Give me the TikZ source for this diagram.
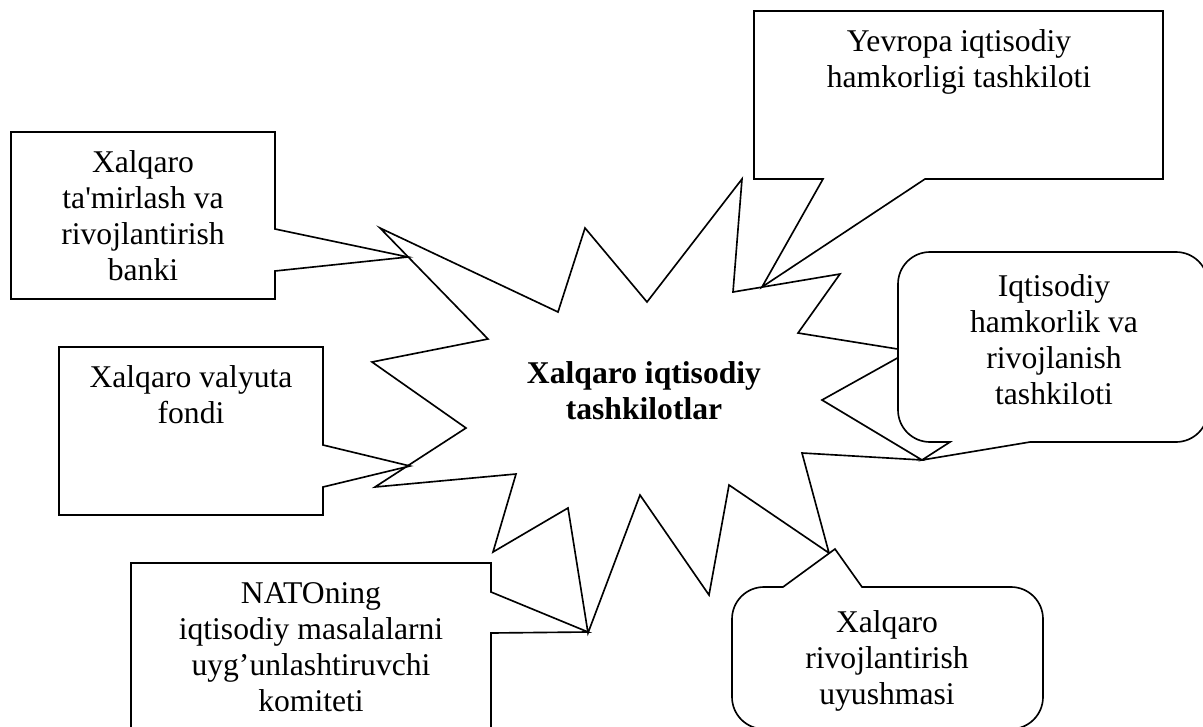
\documentclass[tikz,border=0pt]{standalone}
\usepackage{fontspec}
\setmainfont{Liberation Serif}
\usepackage{tikz}

\begin{document}
\begin{tikzpicture}[x=0.15mm, y=-0.15mm, line width=0.7pt,
  shp/.style={draw, fill=white},
  txt/.style={align=center, inner sep=0pt, font=\fontsize{13.5}{15.4}\selectfont}]
  \useasboundingbox (0,0) rectangle (1203,726);
  \clip (0,0) rectangle (1203,726);

  \draw[shp] (742,179) -- (733,292) -- (840,274) -- (798,333) -- (910,351) -- (822,400)
    -- (922,460) -- (802,453) -- (829,553) -- (729,485) -- (709,595) -- (640,495)
    -- (588,633) -- (568,508) -- (493,552) -- (516,474) -- (375,487) -- (466,428)
    -- (372,362) -- (488,339) -- (380,228) -- (558,312) -- (585,228) -- (647,302) -- cycle;

  \draw[shp] (754,11) -- (1163,11) -- (1163,179) -- (925,179) -- (762,287) -- (823,179) -- (754,179) -- cycle;
  \draw[shp] (11,132) -- (275,132) -- (275,229) -- (408,257) -- (275,271) -- (275,299) -- (11,299) -- cycle;
  \draw[shp] (59,347) -- (323,347) -- (323,445) -- (410,466) -- (323,487) -- (323,515) -- (59,515) -- cycle;
  \draw[shp] (131,563) -- (491,563) -- (491,592) -- (588,632) -- (491,633) -- (491,740) -- (131,740) -- cycle;
  \draw[shp] (922,460) -- (1030,442) [rounded corners=4.8mm] -- (1208,442) -- (1208,252) -- (898,252)
    -- (898,442) [sharp corners] -- (950,442) -- cycle;
  \draw[shp] (835,549) -- (862,587) [rounded corners=4.8mm] -- (1043,587) -- (1043,729) -- (732,729)
    -- (732,587) [sharp corners] -- (783,587) -- cycle;

  \node[txt, font=\fontsize{13.5}{15.4}\selectfont\bfseries] (markaz) at (644,391) {Xalqaro iqtisodiy\\ tashkilotlar};
  \node[txt] (yevropa) at (959,62)  {Yevropa iqtisodiy\\ hamkorligi tashkiloti};
  \node[txt] (tamir)   at (143,216) {Xalqaro\\ ta\textquotesingle mirlash va\\ rivojlantirish\\ banki};
  \node[txt] (valyuta) at (191,395) {Xalqaro valyuta\\ fondi};
  \node[txt] (hamkor)  at (1054,340) {Iqtisodiy\\ hamkorlik va\\ rivojlanish\\ tashkiloti};
  \node[txt] (nato)    at (311,647) {NATOning\\ iqtisodiy masalalarni\\ uyg’unlashtiruvchi\\ komiteti};
  \node[txt] (rivoj)   at (887,661) {Xalqaro\\ rivojlantirish\\ uyushmasi};
\end{tikzpicture}
\end{document}
